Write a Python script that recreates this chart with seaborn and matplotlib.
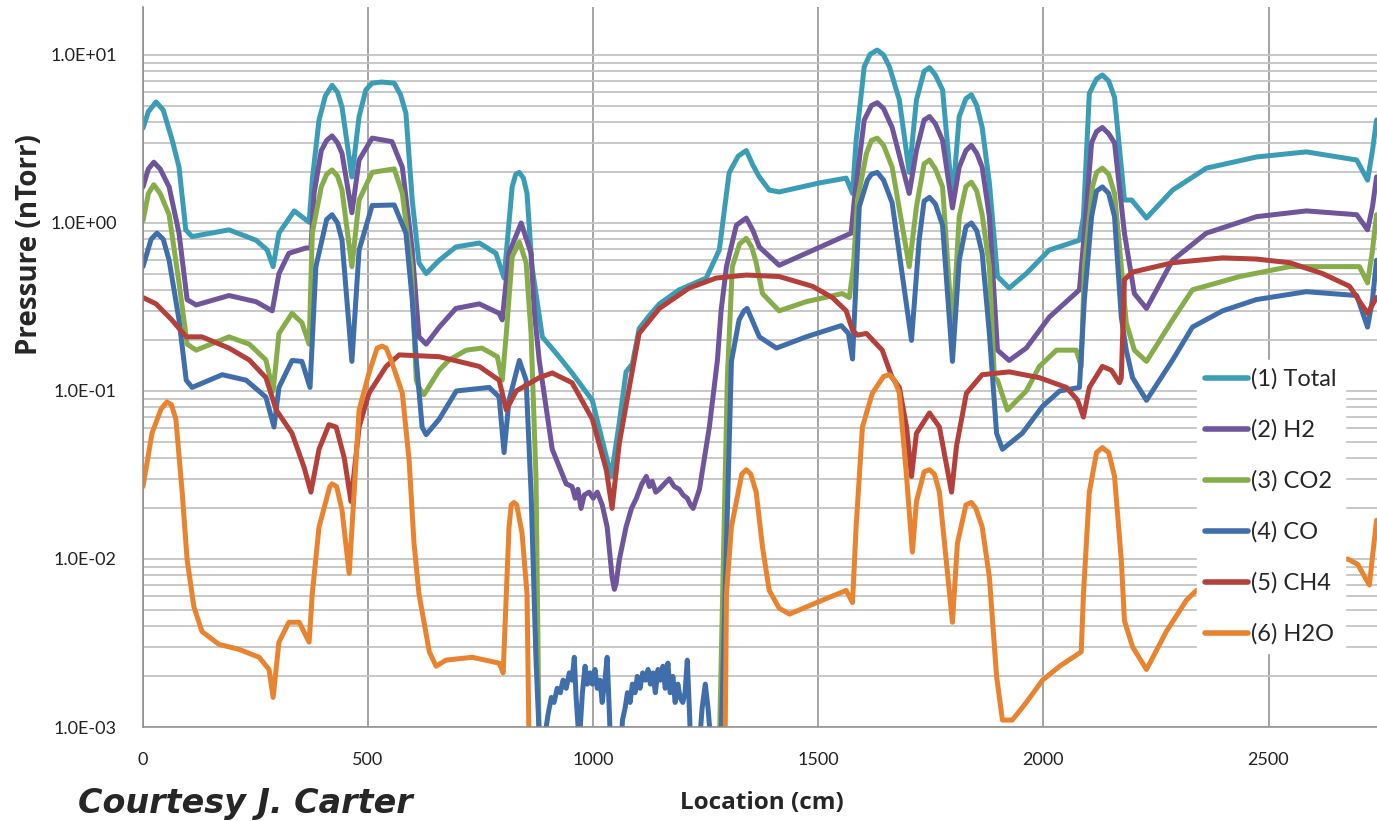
import pandas as pd
import seaborn as sns
import matplotlib.pyplot as plt
import matplotlib.ticker as mticker

total = [(0, 3.67), (12, 4.6), (29, 5.25), (45, 4.7), (65, 3.1), (80, 2.15), (95, 0.91), (109, 0.83),
         (191, 0.91), (251, 0.79), (276, 0.69), (289, 0.55), (302, 0.87), (336, 1.18), (369, 1.01),
         (376, 1.8), (391, 4.1), (405, 5.7), (420, 6.6), (432, 6.0), (442, 4.9), (464, 1.88),
         (480, 4.3), (495, 6.2), (509, 6.8), (530, 6.9), (558, 6.8), (572, 5.8), (584, 4.5),
         (598, 1.37), (613, 0.58), (629, 0.50), (658, 0.60), (695, 0.72), (747, 0.76), (784, 0.66),
         (802, 0.47), (820, 1.64), (828, 1.95), (836, 2.0), (845, 1.85), (853, 1.5), (864, 0.55),
         (887, 0.21), (924, 0.16), (953, 0.128), (998, 0.088), (1040, 0.031), (1058, 0.065),
         (1073, 0.13), (1087, 0.145), (1102, 0.235), (1124, 0.28), (1147, 0.33), (1191, 0.40),
         (1251, 0.47), (1280, 0.69), (1302, 1.99), (1322, 2.5), (1340, 2.7), (1355, 2.2),
         (1369, 1.88), (1391, 1.57), (1413, 1.53), (1502, 1.73), (1562, 1.85), (1576, 1.5),
         (1584, 3.1), (1602, 8.5), (1615, 10.1), (1631, 10.7), (1645, 10.0), (1658, 8.5),
         (1680, 5.4), (1702, 2.0), (1718, 5.4), (1735, 8.0), (1747, 8.4), (1760, 7.6), (1776, 6.2),
         (1798, 1.37), (1813, 4.3), (1828, 5.5), (1840, 5.8), (1852, 5.0), (1864, 3.7),
         (1880, 1.73), (1898, 0.48), (1924, 0.41), (1962, 0.50), (2013, 0.69), (2080, 0.79),
         (2089, 1.09), (2102, 5.9), (2118, 7.2), (2131, 7.6), (2145, 7.0), (2158, 5.6),
         (2173, 2.15), (2180, 1.37), (2196, 1.37), (2229, 1.07), (2287, 1.57), (2362, 2.12),
         (2473, 2.47), (2584, 2.65), (2696, 2.37), (2720, 1.8), (2731, 2.7), (2740, 4.1)]

h2 = [(0, 1.64), (12, 2.1), (24, 2.3), (38, 2.1), (58, 1.64), (80, 0.87), (98, 0.35), (118, 0.325),
      (191, 0.37), (251, 0.34), (287, 0.30), (302, 0.50), (324, 0.66), (362, 0.71), (373, 0.71),
      (380, 1.5), (396, 2.7), (408, 3.1), (420, 3.3), (432, 3.0), (442, 2.6), (464, 1.15),
      (480, 2.37), (509, 3.2), (553, 3.05), (576, 2.15), (598, 0.69), (613, 0.21), (629, 0.19),
      (658, 0.24), (695, 0.31), (747, 0.33), (791, 0.29), (798, 0.265), (813, 0.66), (840, 1.0),
      (862, 0.66), (869, 0.3), (880, 0.153), (909, 0.045), (940, 0.028), (953, 0.027),
      (960, 0.023), (966, 0.026), (973, 0.020), (980, 0.024), (991, 0.025), (1000, 0.023),
      (1009, 0.025), (1020, 0.021), (1031, 0.0155), (1042, 0.0078), (1047, 0.0066),
      (1051, 0.0072), (1058, 0.0099), (1073, 0.0155), (1085, 0.020), (1096, 0.023),
      (1108, 0.028), (1118, 0.031), (1125, 0.027), (1131, 0.029), (1139, 0.025), (1147, 0.026),
      (1158, 0.028), (1169, 0.030), (1180, 0.027), (1191, 0.026), (1200, 0.024), (1209, 0.023),
      (1216, 0.021), (1222, 0.020), (1236, 0.026), (1258, 0.061), (1276, 0.153), (1284, 0.3),
      (1296, 0.55), (1318, 0.97), (1340, 1.07), (1355, 0.9), (1369, 0.72), (1413, 0.56),
      (1473, 0.66), (1573, 0.87), (1580, 1.37), (1602, 4.1), (1618, 5.0), (1631, 5.2),
      (1645, 4.8), (1664, 3.7), (1702, 1.5), (1718, 2.7), (1735, 4.1), (1747, 4.3), (1760, 3.9),
      (1776, 3.1), (1798, 1.23), (1813, 2.15), (1828, 2.7), (1840, 2.9), (1852, 2.6),
      (1864, 2.15), (1880, 1.09), (1898, 0.175), (1924, 0.152), (1962, 0.18), (2013, 0.275),
      (2080, 0.40), (2091, 0.87), (2107, 3.0), (2118, 3.5), (2131, 3.7), (2145, 3.4),
      (2158, 3.0), (2180, 0.87), (2202, 0.38), (2229, 0.31), (2287, 0.60), (2362, 0.87),
      (2473, 1.09), (2584, 1.18), (2696, 1.12), (2720, 0.91), (2731, 1.25), (2740, 1.88)]

co2 = [(0, 1.03), (12, 1.5), (24, 1.69), (38, 1.5), (58, 1.12), (80, 0.44), (98, 0.19),
       (118, 0.175), (191, 0.21), (236, 0.19), (273, 0.153), (289, 0.10), (302, 0.22),
       (331, 0.29), (353, 0.255), (369, 0.19), (376, 0.87), (396, 1.64), (408, 1.95),
       (420, 2.07), (432, 1.9), (442, 1.57), (464, 0.55), (480, 1.37), (509, 2.0), (558, 2.1),
       (576, 1.5), (596, 0.55), (607, 0.116), (613, 0.105), (624, 0.095), (658, 0.133),
       (680, 0.153), (718, 0.175), (753, 0.18), (787, 0.16), (798, 0.116), (807, 0.22),
       (820, 0.63), (836, 0.77), (851, 0.58), (862, 0.22), (873, 0.03), (884, 0.0001),
       (1273, 0.0001), (1298, 0.12), (1309, 0.55), (1325, 0.75), (1340, 0.81), (1352, 0.72),
       (1362, 0.58), (1376, 0.38), (1413, 0.30), (1473, 0.34), (1553, 0.38), (1569, 0.36),
       (1578, 0.55), (1587, 1.37), (1607, 2.6), (1618, 3.1), (1631, 3.2), (1645, 2.9),
       (1664, 2.15), (1702, 0.55), (1718, 1.25), (1735, 2.25), (1747, 2.37), (1760, 2.1),
       (1776, 1.64), (1798, 0.22), (1813, 1.09), (1828, 1.65), (1840, 1.75), (1852, 1.55),
       (1864, 1.12), (1880, 0.55), (1891, 0.12), (1898, 0.116), (1920, 0.077), (1962, 0.10),
       (1991, 0.14), (2029, 0.175), (2073, 0.175), (2084, 0.14), (2091, 0.55), (2109, 1.64),
       (2118, 2.0), (2131, 2.12), (2145, 1.95), (2158, 1.5), (2173, 0.55), (2184, 0.255),
       (2202, 0.175), (2229, 0.15), (2287, 0.265), (2331, 0.40), (2436, 0.48), (2547, 0.55),
       (2702, 0.55), (2720, 0.44), (2731, 0.69), (2740, 1.12)]

co = [(0, 0.55), (18, 0.8), (31, 0.87), (45, 0.8), (58, 0.60), (80, 0.265), (96, 0.116),
      (109, 0.105), (176, 0.125), (229, 0.116), (273, 0.092), (291, 0.061), (302, 0.105),
      (331, 0.152), (353, 0.15), (371, 0.105), (384, 0.55), (408, 1.05), (420, 1.12),
      (432, 1.0), (442, 0.79), (464, 0.15), (480, 0.69), (509, 1.27), (558, 1.28), (584, 0.87),
      (598, 0.35), (607, 0.153), (620, 0.061), (629, 0.055), (658, 0.068), (696, 0.10),
      (769, 0.105), (791, 0.092), (802, 0.043), (813, 0.088), (836, 0.152), (851, 0.116),
      (862, 0.025), (873, 0.0025), (884, 0.0005), (893, 0.0009), (900, 0.0012), (907, 0.0015),
      (913, 0.0014), (920, 0.0017), (927, 0.0016), (933, 0.0019), (940, 0.0017), (947, 0.0021),
      (953, 0.0019), (958, 0.0026), (962, 0.0015), (969, 0.0008), (976, 0.0016), (982, 0.0023),
      (987, 0.0018), (993, 0.0021), (998, 0.0018), (1004, 0.0022), (1009, 0.0017),
      (1015, 0.0019), (1020, 0.0014), (1026, 0.0019), (1031, 0.0026), (1036, 0.0012),
      (1040, 0.0006), (1050, 0.0003), (1060, 0.0006), (1065, 0.0011), (1071, 0.0013),
      (1076, 0.0016), (1082, 0.0014), (1087, 0.0018), (1093, 0.0016), (1098, 0.0020),
      (1104, 0.0017), (1110, 0.0021), (1116, 0.0019), (1122, 0.0022), (1127, 0.0018),
      (1133, 0.0021), (1138, 0.0016), (1144, 0.0022), (1149, 0.0019), (1155, 0.0023),
      (1160, 0.0017), (1166, 0.0024), (1171, 0.0016), (1177, 0.0020), (1182, 0.0014),
      (1188, 0.0018), (1193, 0.0015), (1199, 0.0014), (1204, 0.0016), (1209, 0.0025),
      (1214, 0.0012), (1218, 0.0006), (1228, 0.0004), (1236, 0.0008), (1242, 0.0013),
      (1249, 0.0018), (1255, 0.0013), (1260, 0.0009), (1268, 0.0006), (1284, 0.0008),
      (1296, 0.012), (1307, 0.15), (1324, 0.265), (1335, 0.3), (1342, 0.31), (1369, 0.21),
      (1407, 0.18), (1473, 0.21), (1551, 0.245), (1567, 0.22), (1576, 0.155), (1582, 0.35),
      (1591, 1.25), (1609, 1.8), (1618, 1.95), (1631, 2.0), (1645, 1.8), (1664, 1.32),
      (1707, 0.20), (1724, 0.79), (1735, 1.35), (1747, 1.42), (1760, 1.3), (1776, 0.97),
      (1798, 0.15), (1813, 0.60), (1828, 0.95), (1840, 1.0), (1852, 0.9), (1864, 0.66),
      (1880, 0.22), (1887, 0.12), (1896, 0.056), (1909, 0.045), (1953, 0.056), (1998, 0.081),
      (2036, 0.10), (2080, 0.105), (2091, 0.35), (2107, 1.09), (2118, 1.55), (2131, 1.64),
      (2145, 1.5), (2158, 1.09), (2173, 0.275), (2184, 0.175), (2198, 0.12), (2229, 0.088),
      (2258, 0.116), (2287, 0.153), (2331, 0.24), (2398, 0.30), (2473, 0.35), (2584, 0.39),
      (2696, 0.37), (2720, 0.24), (2731, 0.35), (2740, 0.60)]

ch4 = [(0, 0.36), (29, 0.33), (64, 0.265), (96, 0.21), (131, 0.21), (191, 0.18), (236, 0.153),
       (273, 0.12), (296, 0.077), (331, 0.056), (358, 0.035), (373, 0.025), (391, 0.045),
       (413, 0.063), (429, 0.061), (447, 0.040), (462, 0.022), (480, 0.061), (502, 0.097),
       (540, 0.14), (569, 0.164), (658, 0.16), (747, 0.14), (791, 0.116), (807, 0.077),
       (829, 0.10), (880, 0.12), (909, 0.128), (953, 0.112), (998, 0.068), (1029, 0.034),
       (1042, 0.020), (1058, 0.049), (1087, 0.133), (1102, 0.22), (1147, 0.31), (1213, 0.41),
       (1273, 0.47), (1340, 0.49), (1413, 0.48), (1487, 0.42), (1531, 0.36), (1562, 0.30),
       (1576, 0.23), (1587, 0.215), (1607, 0.22), (1642, 0.175), (1664, 0.12), (1680, 0.105),
       (1696, 0.061), (1707, 0.031), (1718, 0.056), (1747, 0.074), (1769, 0.061), (1796, 0.025),
       (1807, 0.047), (1829, 0.097), (1864, 0.125), (1924, 0.13), (1991, 0.12), (2051, 0.105),
       (2076, 0.088), (2089, 0.070), (2102, 0.105), (2131, 0.14), (2151, 0.133), (2169, 0.112),
       (2173, 0.12), (2180, 0.46), (2198, 0.51), (2287, 0.58), (2398, 0.62), (2473, 0.61),
       (2547, 0.58), (2620, 0.50), (2680, 0.42), (2720, 0.29), (2740, 0.36)]

h2o = [(0, 0.027), (20, 0.056), (40, 0.078), (53, 0.086), (63, 0.083), (73, 0.068), (87, 0.025),
       (98, 0.0099), (113, 0.0052), (131, 0.0037), (169, 0.0031), (213, 0.0029), (258, 0.0026),
       (280, 0.0022), (289, 0.0015), (302, 0.0032), (324, 0.0042), (347, 0.0042), (369, 0.0032),
       (376, 0.0062), (391, 0.0155), (415, 0.027), (420, 0.028), (430, 0.027), (442, 0.0196),
       (458, 0.0082), (469, 0.025), (480, 0.077), (502, 0.128), (520, 0.18), (531, 0.185),
       (540, 0.18), (551, 0.153), (576, 0.097), (591, 0.039), (602, 0.0124), (613, 0.0062),
       (636, 0.0028), (651, 0.0023), (673, 0.0025), (731, 0.0026), (791, 0.0024), (800, 0.0021),
       (807, 0.0062), (813, 0.0155), (818, 0.021), (824, 0.0217), (830, 0.021), (842, 0.0142),
       (853, 0.0062), (862, 0.0001), (1290, 0.0001), (1296, 0.0062), (1307, 0.0155),
       (1330, 0.032), (1340, 0.034), (1350, 0.032), (1362, 0.025), (1376, 0.0118),
       (1391, 0.0065), (1413, 0.0051), (1436, 0.0047), (1496, 0.0055), (1562, 0.0065),
       (1576, 0.0055), (1584, 0.0155), (1598, 0.061), (1620, 0.097), (1645, 0.122),
       (1658, 0.125), (1670, 0.115), (1680, 0.097), (1696, 0.031), (1709, 0.011), (1718, 0.022),
       (1735, 0.033), (1747, 0.034), (1758, 0.032), (1769, 0.025), (1784, 0.0099),
       (1798, 0.0042), (1809, 0.0124), (1828, 0.021), (1840, 0.0217), (1850, 0.020),
       (1864, 0.0155), (1880, 0.0078), (1896, 0.0020), (1909, 0.0011), (1931, 0.0011),
       (1962, 0.0014), (1998, 0.0019), (2036, 0.0023), (2084, 0.0028), (2089, 0.0062),
       (2102, 0.025), (2118, 0.043), (2131, 0.046), (2145, 0.043), (2158, 0.031), (2173, 0.0099),
       (2180, 0.0043), (2198, 0.0030), (2229, 0.0022), (2273, 0.0037), (2318, 0.0057),
       (2340, 0.0065), (2524, 0.0087), (2676, 0.010), (2698, 0.0093), (2724, 0.0070),
       (2740, 0.017)]

labels = ['(1) Total', '(2) H2', '(3) CO2', '(4) CO', '(5) CH4', '(6) H2O']
colors = ['#3b9db5', '#6f559b', '#86ad49', '#3f6eaa', '#b3403a', '#e8832f']

rows = []
for name, pts in zip(labels, [total, h2, co2, co, ch4, h2o]):
    for x, y in sorted(pts):
        rows.append((name, x, y))
df = pd.DataFrame(rows, columns=['Series', 'Location', 'Pressure'])

sns.set_theme(style='white')
plt.rcParams['font.family'] = ['Lato', 'DejaVu Sans']

fig = plt.figure(figsize=(13.77, 8.21), dpi=100)
ax = fig.add_axes([143 / 1377, 94 / 821, 1234 / 1377, 720 / 821])

sns.lineplot(data=df, x='Location', y='Pressure', hue='Series', hue_order=labels,
             palette=dict(zip(labels, colors)), linewidth=3.6, estimator=None, sort=False, ax=ax)
for line in ax.get_lines():
    line.set_solid_joinstyle('round')
    line.set_solid_capstyle('round')

ax.set_yscale('log')
ax.set_xlim(0, 2741)
ax.set_ylim(1e-3, 19.3)

# griglia: orizzontale su tutte le decadi e sottodecadi, verticale ogni 500 cm
ax.yaxis.set_major_locator(mticker.LogLocator(base=10))
ax.yaxis.set_minor_locator(mticker.LogLocator(base=10, subs=range(2, 10)))
ax.yaxis.set_major_formatter(mticker.FuncFormatter(lambda v, p: f'{v:.1E}'))
ax.yaxis.set_minor_formatter(mticker.NullFormatter())
ax.xaxis.set_major_locator(mticker.MultipleLocator(500))
ax.xaxis.set_minor_locator(mticker.MultipleLocator(100))
ax.set_axisbelow(True)
ax.grid(True, which='both', axis='y', color='#c4c4c4', linewidth=1.3)
ax.grid(True, which='major', axis='x', color='#8c8c8c', linewidth=1.1)

ax.tick_params(axis='y', which='both', length=0, pad=19, labelsize=13, labelcolor='#222222')
ax.tick_params(axis='x', which='both', direction='inout', length=10, width=1,
               color='#8c8c8c', labelsize=13, pad=13, labelcolor='#222222')
for s in ['top', 'right']:
    ax.spines[s].set_visible(False)
for s in ['left', 'bottom']:
    ax.spines[s].set_color('#8c8c8c')
    ax.spines[s].set_linewidth(1.1)
ax.set_xlabel('')
ax.set_ylabel('')

handles, names = ax.get_legend_handles_labels()
leg = ax.legend(handles, names, loc='upper left', bbox_to_anchor=(1197 / 1377, 1 - 360 / 821),
                bbox_transform=fig.transFigure, frameon=True, facecolor='white', edgecolor='white',
                framealpha=1, fancybox=False, fontsize=17, handlelength=1.8, handletextpad=0.15,
                labelspacing=1.25, borderpad=0.35, borderaxespad=0)
for lh in leg.get_lines():
    lh.set_linewidth(4)

fig.text(30 / 1377, 1 - 245 / 821, 'Pressure (nTorr)', rotation=90, ha='center', va='center',
         fontsize=20, fontweight='bold', family=['Open Sans', 'DejaVu Sans'])
fig.text(762 / 1377, 1 - 803 / 821, 'Location (cm)', ha='center', va='center',
         fontsize=17.5, fontweight='bold', family=['Open Sans', 'DejaVu Sans'])
fig.text(78 / 1377, 8 / 821, 'Courtesy J. Carter', ha='left', va='baseline',
         fontsize=24, fontweight='bold', style='italic', family=['DejaVu Sans'])

fig.savefig('out.png', dpi=100)
